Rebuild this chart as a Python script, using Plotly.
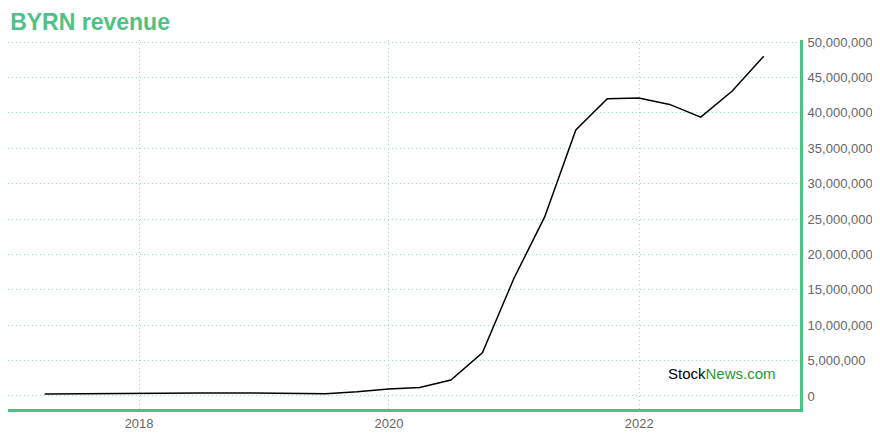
import plotly.graph_objects as go

dates = ["2017-03-31", "2017-06-30", "2017-09-30", "2017-12-31",
         "2018-03-31", "2018-06-30", "2018-09-30", "2018-12-31",
         "2019-03-31", "2019-06-30", "2019-09-30", "2019-12-31",
         "2020-03-31", "2020-06-30", "2020-09-30", "2020-12-31",
         "2021-03-31", "2021-06-30", "2021-09-30", "2021-12-31",
         "2022-03-31", "2022-06-30", "2022-09-30", "2022-12-31"]
revenue = [280000, 330000, 380000, 400000,
           400000, 430000, 430000, 400000,
           350000, 330000, 600000, 1000000,
           1200000, 2250000, 6100000, 16600000,
           25300000, 37600000, 42000000, 42100000,
           41200000, 39400000, 43100000, 48000000]

title_text = "BYRN revenue"
green = "#50c185"
grid = "#9fd9c0"
font_family = "Liberation Sans, Arial, sans-serif"

fig = go.Figure()
fig.add_trace(go.Scatter(x=dates, y=revenue, mode="lines",
                         line=dict(color="#000000", width=1.5),
                         hoverinfo="x+y"))

fig.update_layout(
    width=872, height=432,
    margin=dict(l=0, r=80, t=32, b=31, autoexpand=False),
    paper_bgcolor="white", plot_bgcolor="white",
    showlegend=False,
    font=dict(family=font_family, color="#666666", size=13),
    title=dict(text="<b>" + title_text + "</b>", x=0.0025, xanchor="left",
               y=0.9676, yanchor="middle",
               font=dict(size=23, color=green, family=font_family)),
    xaxis=dict(
        type="date",
        range=["2016-12-14", "2023-04-16"],
        tick0="2018-01-01", dtick="M24", tickformat="%Y",
        showgrid=True, gridcolor=grid, griddash="1px,3px", gridwidth=1,
        showline=True, linecolor=green, linewidth=3,
        ticks="", zeroline=False,
        tickfont=dict(size=13, color="#666666"),
    ),
    yaxis=dict(
        side="right",
        range=[-1840000, 50300000],
        tick0=0, dtick=5000000, tickformat=",d",
        showgrid=True, gridcolor=grid, griddash="1px,3px", gridwidth=1,
        showline=True, linecolor=green, linewidth=3,
        ticks="", zeroline=False, ticklabelstandoff=2,
        tickfont=dict(size=13, color="#666666"),
    ),
    annotations=[dict(
        text="<span style='color:#000000'>Stock</span><span style='color:#1e9a3c'>News.com</span>",
        xref="paper", yref="paper", x=0.972, y=0.095, xanchor="right", yanchor="middle",
        showarrow=False, font=dict(size=15, family=font_family),
    )],
)

fig.write_html("out.html")
